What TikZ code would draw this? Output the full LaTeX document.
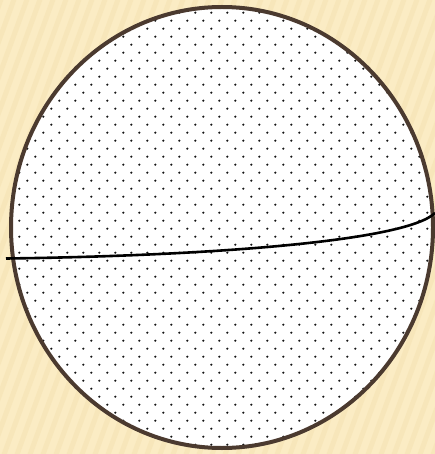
\documentclass[tikz,border=0pt]{standalone}
\usetikzlibrary{calc}
\definecolor{bgyellow}{HTML}{FBECC4}
\definecolor{stripe}{HTML}{F1DBA3}
\definecolor{rimbrown}{HTML}{4B3A2F}
\definecolor{dotgray}{HTML}{151515}
\tikzset{
  stripeline/.style={draw=stripe, line width=5pt, opacity=0.3},
  rim/.style={draw=rimbrown, line width=4pt},
  dotmark/.style={fill=dotgray},
  curveline/.style={draw=black, line width=2.6pt}
}
\begin{document}
\begin{tikzpicture}[x=1pt,y=-1pt]
  \useasboundingbox (0,0) rectangle (435,454);
  % background
  \fill[bgyellow] (0,0) rectangle (435,454);
  \begin{scope}
    \clip (0,0) rectangle (435,454);
    \foreach \k in {-180,-167,...,440} {
      \draw[stripeline] (\k,460) -- (\k+170,-6);
    }
  \end{scope}
  % disc
  \coordinate (c) at (222,227.5);
  \fill[white] (c) ellipse [x radius=211, y radius=220.5];
  \begin{scope}
    \clip (c) ellipse [x radius=211, y radius=220.5];
    \foreach \j in {0,...,56} {
      \pgfmathsetmacro{\yy}{4.7+8*\j}
      \pgfmathsetmacro{\off}{8*(1-mod(\j,2))}
      \foreach \i in {0,...,27} {
        \fill[dotmark] (3.3+16*\i+\off,\yy) circle (1.2);
      }
    }
  \end{scope}
  \draw[rim] (c) ellipse [x radius=211, y radius=220.5];
  % curve
  \coordinate (cl) at (6,258.5);
  \coordinate (cr) at (435,213);
  \draw[curveline] (cl) .. controls (200,256) and (405,242) .. (cr);
\end{tikzpicture}
\end{document}
